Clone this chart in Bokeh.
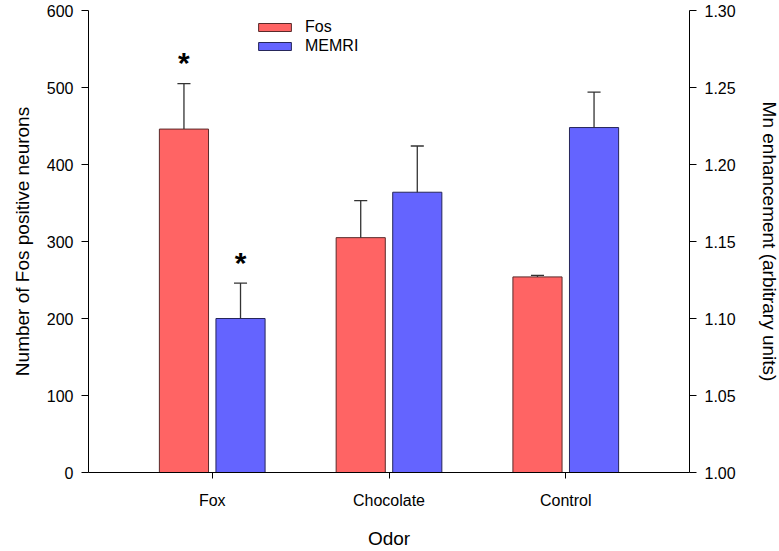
from bokeh.plotting import figure
from bokeh.models import (ColumnDataSource, FactorRange, Range1d, LinearAxis, FixedTicker,
                          NumeralTickFormatter, Legend, LegendItem)
from bokeh.transform import dodge
from bokeh.core.properties import value
from bokeh.embed import file_html
from bokeh.resources import INLINE

# ---- data ----
odors = ["Fox", "Chocolate", "Control"]
fos = [446, 305, 254]
fos_err = [59, 48, 2]
memri = [1.100, 1.182, 1.224]
memri_err = [0.023, 0.030, 0.023]
fos_ticks = [0, 100, 200, 300, 400, 500, 600]
memri_ticks = [1.00, 1.05, 1.10, 1.15, 1.20, 1.25, 1.30]
star_odor = ["Fox"]
fos_star = [538]
memri_star = [1.139]

FONT = "Liberation Sans"
RED = "#FF6464"
BLUE = "#6464FF"

src = ColumnDataSource(dict(
    odor=odors, fos=fos, memri=memri,
    fos_top=[v + e for v, e in zip(fos, fos_err)],
    memri_top=[v + e for v, e in zip(memri, memri_err)],
))
star_src = ColumnDataSource(dict(odor=star_odor, fos=fos_star, memri=memri_star, t=["*"]))

xr = FactorRange(factors=odors, range_padding=0.2, range_padding_units="absolute")
p = figure(x_range=xr, y_range=Range1d(0, 600), width=782, height=551,
           output_backend="svg", toolbar_location=None,
           min_border_left=88, min_border_right=90, min_border_top=10, min_border_bottom=78)
p.extra_y_ranges = {"mn": Range1d(1.0, 1.3)}
p.outline_line_color = None
p.xgrid.visible = False
p.ygrid.visible = False
p.background_fill_color = "white"
p.border_fill_color = "white"

OFF = 0.16
W = 0.278
CAP = 0.037

r_fos = p.vbar(x=dodge("odor", -OFF, range=xr), top="fos", bottom=0, width=W, source=src,
               fill_color=RED, line_color="#5a2a2a", line_width=1)
r_mem = p.vbar(x=dodge("odor", OFF, range=xr), top="memri", bottom=1.0, width=W, source=src,
               fill_color=BLUE, line_color="#26265a", line_width=1, y_range_name="mn")

# error bars (upper only)
p.segment(x0=dodge("odor", -OFF, range=xr), y0="fos", x1=dodge("odor", -OFF, range=xr), y1="fos_top",
          source=src, line_color="#333333", line_width=1.3)
p.segment(x0=dodge("odor", -OFF - CAP, range=xr), y0="fos_top", x1=dodge("odor", -OFF + CAP, range=xr),
          y1="fos_top", source=src, line_color="#333333", line_width=1.3)
p.segment(x0=dodge("odor", OFF, range=xr), y0="memri", x1=dodge("odor", OFF, range=xr), y1="memri_top",
          source=src, line_color="#333333", line_width=1.3, y_range_name="mn")
p.segment(x0=dodge("odor", OFF - CAP, range=xr), y0="memri_top", x1=dodge("odor", OFF + CAP, range=xr),
          y1="memri_top", source=src, line_color="#333333", line_width=1.3, y_range_name="mn")

# significance stars
p.text(x=dodge("odor", -OFF, range=xr), y="fos", text="t", source=star_src,
       text_font=value(FONT), text_font_size="30px", text_font_style="bold",
       text_align="center", text_baseline="middle", y_offset=4, text_color="black")
p.text(x=dodge("odor", OFF, range=xr), y="memri", text="t", source=star_src,
       text_font=value(FONT), text_font_size="30px", text_font_style="bold",
       text_align="center", text_baseline="middle", y_offset=4, text_color="black",
       y_range_name="mn")

# axes
def style_axis(ax, standoff, title_standoff):
    ax.axis_line_color = "black"
    ax.major_tick_line_color = "black"
    ax.minor_tick_line_color = None
    ax.major_tick_in = 0
    ax.major_tick_out = 7
    ax.major_label_text_font = FONT
    ax.major_label_text_font_size = "16px"
    ax.major_label_text_color = "black"
    ax.major_label_standoff = standoff
    ax.axis_label_text_font = FONT
    ax.axis_label_text_font_size = "19px"
    ax.axis_label_text_font_style = "normal"
    ax.axis_label_text_color = "black"
    ax.axis_label_standoff = title_standoff

yl = p.yaxis[0]
yl.ticker = FixedTicker(ticks=fos_ticks)
yl.axis_label = "Number of Fos positive neurons"
style_axis(yl, 8, 11)

yr = LinearAxis(y_range_name="mn", ticker=FixedTicker(ticks=memri_ticks),
                formatter=NumeralTickFormatter(format="0.00"),
                axis_label="Mn enhancement (arbitrary units)")
style_axis(yr, 8, 20)
p.add_layout(yr, "right")

xa = p.xaxis[0]
xa.axis_label = "Odor"
style_axis(xa, 13, 16)
xa.major_tick_out = 6

legend = Legend(items=[LegendItem(label="Fos", renderers=[r_fos]),
                       LegendItem(label="MEMRI", renderers=[r_mem])],
                location=(166, 417), orientation="vertical",
                glyph_width=41, glyph_height=10, label_height=19, spacing=0,
                label_standoff=10, padding=0, margin=0,
                label_text_font=FONT, label_text_font_size="16px", label_text_color="black",
                border_line_alpha=0, background_fill_alpha=0)
p.add_layout(legend)

open("out.html", "w").write(file_html(p, INLINE))
